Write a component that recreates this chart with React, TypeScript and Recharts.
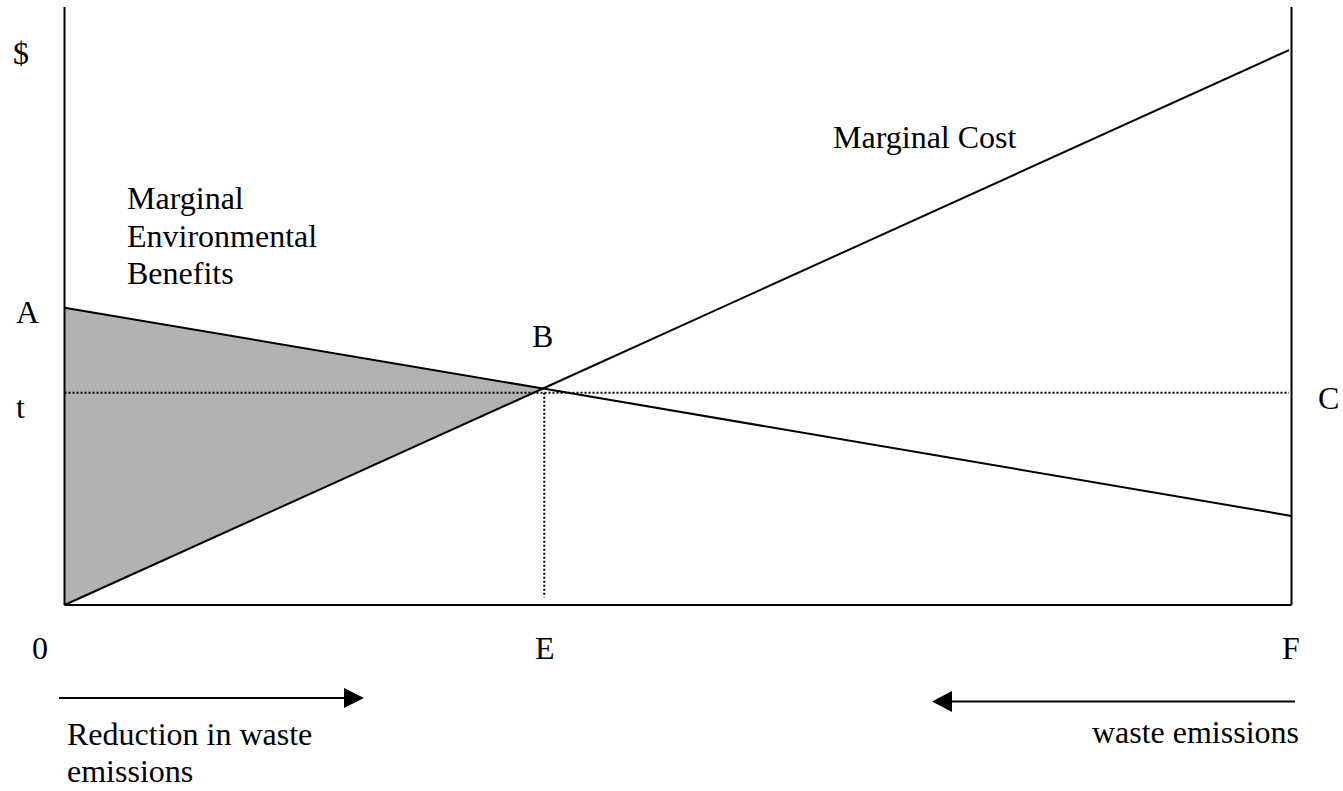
import React from 'react';
import { ComposedChart, Line, Area, XAxis, YAxis, ReferenceLine } from 'recharts';

// Quantity positions (0 = origin, 100 = F)
const xs = [0, 39, 99.8, 100];
const marginalCost = [0, 36.2, 92.8, null];
const marginalBenefit = [49.7, 36.2, null, 14.9];
const shadedLow = [0, 36.2, null, null];
const shadedHigh = [49.7, 36.2, null, null];

const taxLevel = 35.5; // t
const equilibriumX = 39.1; // E
const dottedEndX = 99.8;
const dottedBottom = 1.3;

const data = xs.map((x, i) => ({
  x,
  mc: marginalCost[i],
  mb: marginalBenefit[i],
  band: shadedLow[i] === null ? null : [shadedLow[i], shadedHigh[i]],
}));

const W = 1343;
const H = 791;
const FONT = '"Liberation Serif", "Times New Roman", serif';

type Lbl = { text: string; x: number; y: number; anchor?: 'start' | 'end' | 'middle' };
const labels: Lbl[] = [
  { text: '$', x: 13, y: 64 },
  { text: 'A', x: 16, y: 323 },
  { text: 't', x: 16, y: 418 },
  { text: 'C', x: 1318, y: 409 },
  { text: 'B', x: 532, y: 347 },
  { text: '0', x: 32, y: 659 },
  { text: 'E', x: 535, y: 659 },
  { text: 'F', x: 1282, y: 659 },
  { text: 'Marginal Cost', x: 833, y: 148 },
  { text: 'Marginal', x: 127, y: 209 },
  { text: 'Environmental', x: 127, y: 247 },
  { text: 'Benefits', x: 127, y: 284 },
  { text: 'Reduction in waste', x: 67, y: 745 },
  { text: 'emissions', x: 67, y: 782 },
  { text: 'waste emissions', x: 1299, y: 743, anchor: 'end' },
];

export default function App() {
  return (
    <div style={{ position: 'absolute', left: 0, top: 0, width: W, height: H, background: '#fff' }}>
      <ComposedChart
        width={W}
        height={H}
        data={data}
        margin={{ top: 7, left: 64.5, right: 51.5, bottom: 186 }}
      >
        <XAxis type="number" dataKey="x" domain={[0, 100]} hide />
        <YAxis type="number" domain={[0, 100]} hide />
        <Area
          type="linear"
          dataKey="band"
          stroke="none"
          fill="#b2b2b2"
          fillOpacity={1}
          isAnimationActive={false}
          connectNulls={false}
        />
        <ReferenceLine
          segment={[{ x: 0, y: taxLevel }, { x: dottedEndX, y: taxLevel }]}
          stroke="#000"
          strokeWidth={2}
          strokeDasharray="2 2"
        />
        <ReferenceLine
          segment={[{ x: equilibriumX, y: taxLevel }, { x: equilibriumX, y: dottedBottom }]}
          stroke="#000"
          strokeWidth={2}
          strokeDasharray="2 2"
        />
        <Line
          type="linear"
          dataKey="mc"
          stroke="#000"
          strokeWidth={2}
          dot={false}
          connectNulls
          isAnimationActive={false}
        />
        <Line
          type="linear"
          dataKey="mb"
          stroke="#000"
          strokeWidth={2}
          dot={false}
          connectNulls
          isAnimationActive={false}
        />
        <ReferenceLine x={0} stroke="#000" strokeWidth={2} />
        <ReferenceLine x={100} stroke="#000" strokeWidth={2} />
        <ReferenceLine y={0} stroke="#000" strokeWidth={2} />
      </ComposedChart>
      <svg
        width={W}
        height={H}
        style={{ position: 'absolute', left: 0, top: 0, pointerEvents: 'none' }}
      >
        {labels.map((l) => (
          <text
            key={l.text + l.x}
            x={l.x}
            y={l.y}
            textAnchor={l.anchor || 'start'}
            fontFamily={FONT}
            fontSize={32}
            fill="#000"
          >
            {l.text}
          </text>
        ))}
        <line x1={59} y1={698} x2={346} y2={698} stroke="#000" strokeWidth={2} />
        <polygon points="344,688 364,698 344,708" fill="#000" />
        <line x1={1295} y1={701.5} x2={950} y2={701.5} stroke="#000" strokeWidth={2} />
        <polygon points="952,691 932,701.5 952,712" fill="#000" />
      </svg>
    </div>
  );
}
